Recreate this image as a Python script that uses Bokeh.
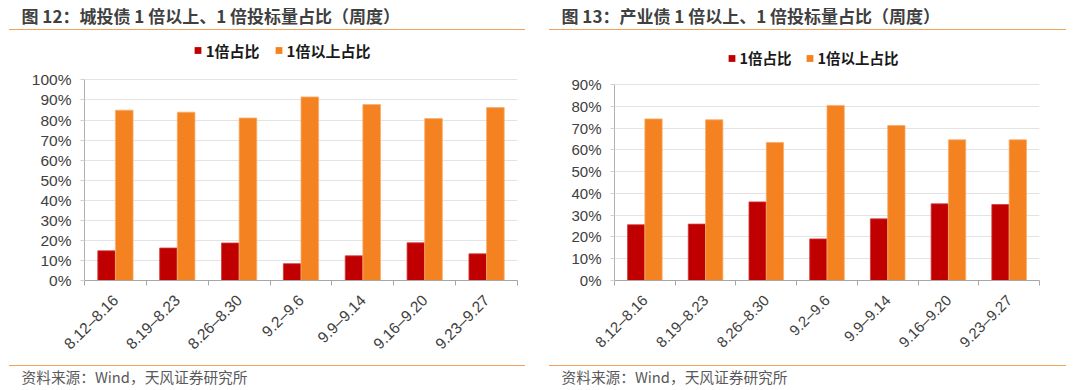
import math
from bokeh.plotting import figure
from bokeh.layouts import row, column
from bokeh.models import (Range1d, FixedTicker, PrintfTickFormatter, Legend,
                          LegendItem, Div, ColumnDataSource)
from bokeh.embed import file_html
from bokeh.resources import INLINE

# ---------------- data ----------------
weeks = ["8.12–8.16", "8.19–8.23", "8.26–8.30", "9.2–9.6",
         "9.9–9.14", "9.16–9.20", "9.23–9.27"]
series_names = ["1倍占比", "1倍以上占比"]
chengtou_1x = [14.8, 16.2, 18.7, 8.4, 12.3, 18.8, 13.3]
chengtou_above = [84.9, 83.9, 81.0, 91.5, 87.7, 80.7, 86.2]
chanye_1x = [25.6, 25.9, 36.1, 19.1, 28.3, 35.2, 34.9]
chanye_above = [74.2, 73.8, 63.4, 80.4, 71.2, 64.6, 64.6]
title_left = "图 12：城投债 1 倍以上、1 倍投标量占比（周度）"
title_right = "图 13：产业债 1 倍以上、1 倍投标量占比（周度）"
source_text = "资料来源：Wind，天风证券研究所"

RED = "#C00000"
ORANGE = "#F58220"
LINE_ORANGE = "#F4A15C"
CJK = "Noto Sans CJK SC"
LAT = "Liberation Sans"
PW = 540          # panel width
TH, FH = 30, 26   # title / footer strip heights
PH = 390 - TH - FH


def title_div(text, line_left, line_width, text_left):
    html = (
        f'<div style="margin:0 0 0 {line_left}px;width:{line_width}px;'
        f'height:29.6px;box-sizing:border-box;'
        f'border-bottom:1.8px solid {LINE_ORANGE};'
        f'padding:0 0 0 {text_left - line_left}px;line-height:31px;'
        f'font-family:\'{CJK}\';font-weight:bold;font-size:17px;'
        f'color:#404040;white-space:nowrap;">{text}</div>')
    return Div(text=html, width=PW, height=TH, margin=0)


def footer_div(text, line_left, line_width, text_left):
    html = (
        f'<div style="margin:1.1px 0 0 {line_left}px;width:{line_width}px;'
        f'box-sizing:border-box;border-top:1.8px solid {LINE_ORANGE};'
        f'padding:0 0 0 {text_left - line_left}px;line-height:21px;'
        f'font-family:\'{CJK}\';font-size:14.7px;color:#595959;'
        f'white-space:nowrap;">{text}</div>')
    return Div(text=html, width=PW, height=FH, margin=0)


def make_panel(s1, s2, ymax, ml, mr, mt, mb, px_per_unit, leg_loc, leg_fs,
               leg_spacing, tick_fs):
    frame_h = PH - mt - mb
    y_end = frame_h / px_per_unit   # frame extends above the top tick to hold the legend
    p = figure(width=PW, height=PH, output_backend="svg", toolbar_location=None,
               x_range=Range1d(0, len(weeks)), y_range=Range1d(0, y_end),
               min_border_left=ml, min_border_right=mr,
               min_border_top=mt, min_border_bottom=mb)
    p.outline_line_color = None
    p.xgrid.grid_line_color = None
    p.ygrid.grid_line_color = "#e3e3e3"
    p.ygrid.grid_line_width = 1

    w = 0.285
    xs = [i + 0.5 for i in range(len(weeks))]
    src = ColumnDataSource(dict(x=xs, s1=s1, s2=s2,
                                x1=[x - w / 2 for x in xs],
                                x2=[x + w / 2 for x in xs]))
    p.vbar(x="x1", width=w, top="s1", bottom=0, source=src,
           fill_color=RED, line_color="#d23c3c", line_width=0.8)
    p.vbar(x="x2", width=w, top="s2", bottom=0, source=src,
           fill_color=ORANGE, line_color="#f8ad6c", line_width=0.8)

    # legend swatches: zero-size square markers (legend draws them at its own size)
    k1 = p.scatter(x="x1", y="s1", source=src, marker="square",
                   size=0, fill_color=RED, line_color=None)
    k2 = p.scatter(x="x2", y="s2", source=src, marker="square",
                   size=0, fill_color=ORANGE, line_color=None)
    legend = Legend(items=[LegendItem(label=series_names[0], renderers=[k1]),
                           LegendItem(label=series_names[1], renderers=[k2])],
                    orientation="horizontal", location=leg_loc,
                    margin=0, padding=0, spacing=leg_spacing,
                    glyph_width=17, glyph_height=30, label_height=30,
                    label_standoff=0,
                    label_text_font=CJK, label_text_font_size=leg_fs,
                    label_text_font_style="bold", label_text_color="#1a1a1a",
                    border_line_color=None,
                    background_fill_alpha=0)
    p.add_layout(legend)

    # y axis
    ya = p.yaxis[0]
    ya.bounds = (0, ymax)
    ya.ticker = FixedTicker(ticks=list(range(0, ymax + 1, 10)))
    ya.formatter = PrintfTickFormatter(format="%d%%")
    ya.axis_line_color = "#b0b0b0"
    ya.major_tick_out = 4
    ya.major_tick_in = 0
    ya.major_tick_line_color = "#d0d0d0"
    ya.minor_tick_line_color = None
    ya.major_label_standoff = 9
    ya.major_label_text_font = LAT
    ya.major_label_text_font_size = tick_fs
    ya.major_label_text_color = "#404040"

    # x axis: labels at category centres, ticks at category boundaries
    xa = p.xaxis[0]
    xa.ticker = FixedTicker(ticks=xs, minor_ticks=list(range(len(weeks) + 1)))
    xa.major_label_overrides = {x: lab for x, lab in zip(xs, weeks)}
    xa.major_label_orientation = math.pi / 4
    xa.axis_line_color = "#a6a6a6"
    xa.major_tick_line_color = None
    xa.major_tick_out = 0
    xa.major_tick_in = 0
    xa.minor_tick_line_color = "#a6a6a6"
    xa.minor_tick_out = 5
    xa.minor_tick_in = 0
    xa.major_label_standoff = 12
    xa.major_label_text_font = LAT
    xa.major_label_text_font_size = tick_fs
    xa.major_label_text_color = "#404040"
    return p


p1 = make_panel(chengtou_1x, chengtou_above, 100,
                ml=84, mr=23, mt=0, mb=81, px_per_unit=2.03,
                leg_loc=(104.7, 215.0), leg_fs="15px", leg_spacing=10,
                tick_fs="15.5px")
p2 = make_panel(chanye_1x, chanye_above, 90,
                ml=74, mr=41, mt=0, mb=84, px_per_unit=196 / 90,
                leg_loc=(108.5, 207.3), leg_fs="14.5px", leg_spacing=9,
                tick_fs="15px")

t1 = title_div(title_left, 9, 516, 21.5)
t2 = title_div(title_right, 9, 517, 21.5)
f1 = footer_div(source_text, 9, 516, 21.5)
f2 = footer_div(source_text, 9, 517, 21.5)

layout = column(row(t1, t2), row(p1, p2), row(f1, f2))
open("out.html", "w").write(file_html(layout, INLINE))
